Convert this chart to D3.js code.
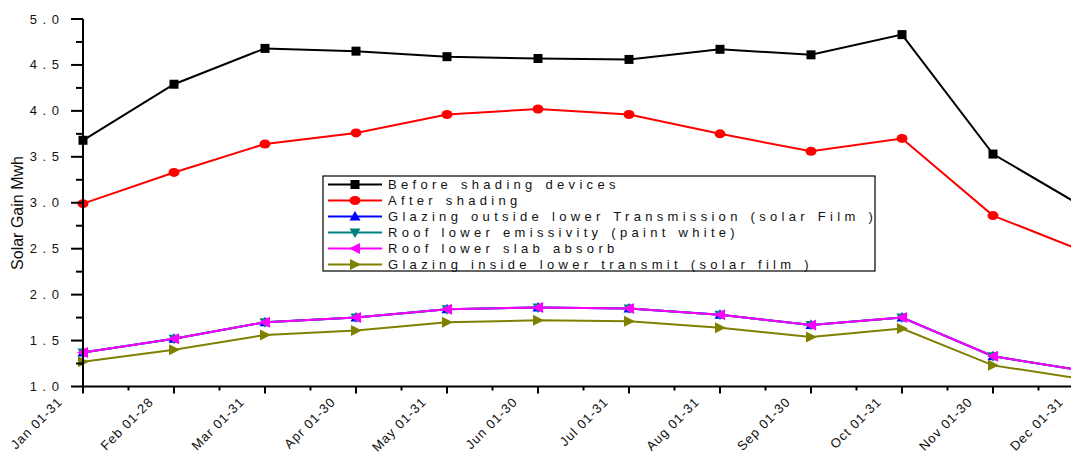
<!DOCTYPE html>
<html>
<head>
<meta charset="utf-8">
<script src="https://cdn.jsdelivr.net/npm/d3@7"></script>
<style>
  html, body { margin: 0; padding: 0; background: #fff; }
  svg { display: block; font-family: "Liberation Sans", Arial, sans-serif; }
</style>
</head>
<body>
<svg id="chart" width="1071" height="455"></svg>
<script>
// Monthly periods on the x axis
const months = ["Jan 01-31", "Feb 01-28", "Mar 01-31", "Apr 01-30", "May 01-31", "Jun 01-30",
                "Jul 01-31", "Aug 01-31", "Sep 01-30", "Oct 01-31", "Nov 01-30", "Dec 01-31"];

// Solar gain (MWh) for each scenario
const beforeShading   = [3.68, 4.29, 4.68, 4.65, 4.59, 4.57, 4.56, 4.67, 4.61, 4.83, 3.53, 2.95];
const afterShading    = [2.99, 3.33, 3.64, 3.76, 3.96, 4.02, 3.96, 3.75, 3.56, 3.70, 2.86, 2.47];
const glazingOutside  = [1.37, 1.52, 1.70, 1.75, 1.84, 1.86, 1.85, 1.78, 1.67, 1.75, 1.33, 1.17];
const roofEmissivity  = [1.37, 1.52, 1.70, 1.75, 1.84, 1.86, 1.85, 1.78, 1.67, 1.75, 1.33, 1.17];
const roofSlabAbsorb  = [1.37, 1.52, 1.70, 1.75, 1.84, 1.86, 1.85, 1.78, 1.67, 1.75, 1.33, 1.17];
const glazingInside   = [1.27, 1.40, 1.56, 1.61, 1.70, 1.72, 1.71, 1.64, 1.54, 1.63, 1.23, 1.08];

const seriesNames = [
  "Before shading devices",
  "After shading",
  "Glazing outside lower Transmission (solar Film )",
  "Roof lower emissivity (paint white)",
  "Roof lower slab absorb",
  "Glazing inside lower transmit (solar film )"
];
const yTicks = [1.0, 1.5, 2.0, 2.5, 3.0, 3.5, 4.0, 4.5, 5.0];

const series = [
  { name: seriesNames[0], values: beforeShading,  color: "#000000", marker: "square" },
  { name: seriesNames[1], values: afterShading,   color: "#ff0000", marker: "circle" },
  { name: seriesNames[2], values: glazingOutside, color: "#0000ff", marker: "triUp" },
  { name: seriesNames[3], values: roofEmissivity, color: "#008080", marker: "triDown" },
  { name: seriesNames[4], values: roofSlabAbsorb, color: "#ff00ff", marker: "triLeft" },
  { name: seriesNames[5], values: glazingInside,  color: "#808000", marker: "triRight" }
];

const svg = d3.select("#chart");
const x0 = 83, yBottom = 386.5, yTop = 19;

const x = d3.scalePoint().domain(months).range([x0, x0 + 91 * 11]);
const y = d3.scaleLinear().domain([1, 5]).range([yBottom, yTop]);

// Marker shapes
function markerPath(type) {
  switch (type) {
    case "square":   return "M-4.5,-4.5H4.5V4.5H-4.5Z";
    case "triUp":    return "M0,-5.5L5.5,4L-5.5,4Z";
    case "triDown":  return "M0,5.5L5.5,-4L-5.5,-4Z";
    case "triLeft":  return "M-6,0L5,-5.5L5,5.5Z";
    case "triRight": return "M6,0L-5,-5.5L-5,5.5Z";
  }
  return null;
}
function drawMarker(g, type, color) {
  if (type === "circle") {
    g.append("ellipse").attr("rx", 5.5).attr("ry", 4.5).attr("fill", color);
  } else {
    g.append("path").attr("d", markerPath(type)).attr("fill", color);
  }
}

// Series lines and markers
const line = d3.line().x((d, i) => x(months[i])).y(d => y(d));
const plot = svg.append("g");
series.forEach(s => {
  plot.append("path")
    .attr("d", line(s.values))
    .attr("fill", "none")
    .attr("stroke", s.color)
    .attr("stroke-width", 2);
});
series.forEach(s => {
  s.values.forEach((v, i) => {
    const g = plot.append("g").attr("transform", `translate(${x(months[i])},${y(v)})`);
    drawMarker(g, s.marker, s.color);
  });
});

// Y axis with minor ticks
const yAxisG = svg.append("g");
yAxisG.append("line").attr("x1", x0).attr("x2", x0).attr("y1", yTop).attr("y2", yBottom)
  .attr("stroke", "#000").attr("stroke-width", 2);
const yMinor = d3.range(1.25, 5, 0.5);
yAxisG.selectAll(".ymin").data(yMinor).join("line")
  .attr("x1", x0 - 7).attr("x2", x0).attr("y1", d => y(d)).attr("y2", d => y(d))
  .attr("stroke", "#000").attr("stroke-width", 2);
yAxisG.selectAll(".ymaj").data(yTicks).join("line")
  .attr("x1", x0 - 12).attr("x2", x0).attr("y1", d => y(d)).attr("y2", d => y(d))
  .attr("stroke", "#000").attr("stroke-width", 2);
yAxisG.selectAll(".ylab").data(yTicks).join("text")
  .attr("x", 60).attr("y", d => y(d)).attr("dy", "0.35em")
  .attr("text-anchor", "end")
  .attr("font-size", 13)
  .attr("letter-spacing", 1)
  .attr("fill", "#111")
  .text(d => d.toFixed(1).split("").join(" "));

// X axis with minor ticks between periods
const xAxisG = svg.append("g");
xAxisG.append("line").attr("x1", x0).attr("x2", 1071).attr("y1", yBottom).attr("y2", yBottom)
  .attr("stroke", "#000").attr("stroke-width", 2);
xAxisG.selectAll(".xmaj").data(months).join("line")
  .attr("x1", d => x(d)).attr("x2", d => x(d)).attr("y1", yBottom).attr("y2", yBottom + 7)
  .attr("stroke", "#000").attr("stroke-width", 2);
xAxisG.selectAll(".xmin").data(months.slice(0, -1)).join("line")
  .attr("x1", d => x(d) + x.step() / 2).attr("x2", d => x(d) + x.step() / 2)
  .attr("y1", yBottom).attr("y2", yBottom + 4)
  .attr("stroke", "#000").attr("stroke-width", 2);
xAxisG.selectAll(".xlab").data(months).join("text")
  .attr("transform", d => `translate(${x(d) - 23},${yBottom + 13}) rotate(-45)`)
  .attr("text-anchor", "end")
  .attr("dy", "0.35em")
  .attr("font-size", 13)
  .attr("letter-spacing", 1)
  .attr("fill", "#111")
  .text(d => d);

// Y axis title
svg.append("text")
  .attr("transform", "translate(23,213) rotate(-90)")
  .attr("text-anchor", "middle")
  .attr("font-size", 16)
  .attr("fill", "#111")
  .text("Solar Gain Mwh");

// Legend
const lg = svg.append("g");
lg.append("rect").attr("x", 323).attr("y", 176).attr("width", 552).attr("height", 95)
  .attr("fill", "#fff").attr("stroke", "#000").attr("stroke-width", 1.2);
series.forEach((s, i) => {
  const ry = 184.5 + i * 16;
  lg.append("line").attr("x1", 328).attr("x2", 382).attr("y1", ry).attr("y2", ry)
    .attr("stroke", s.color).attr("stroke-width", 2);
  const g = lg.append("g").attr("transform", `translate(355,${ry})`);
  drawMarker(g, s.marker, s.color);
  lg.append("text").attr("x", 388).attr("y", ry).attr("dy", "0.36em")
    .attr("font-size", 13)
    .attr("letter-spacing", 4.3)
    .attr("word-spacing", 1)
    .attr("fill", "#111")
    .text(s.name);
});
</script>
</body>
</html>
